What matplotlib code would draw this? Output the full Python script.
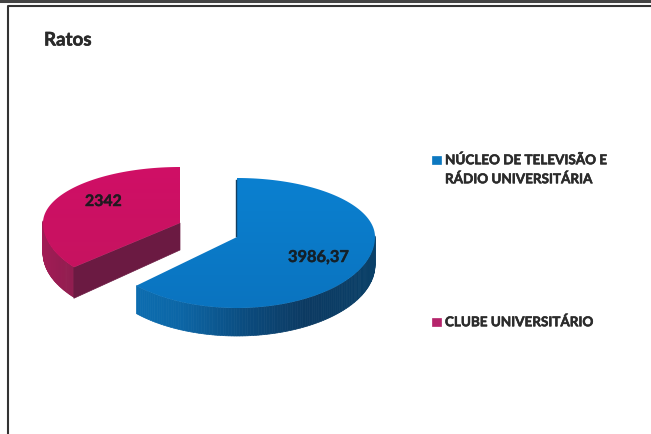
import numpy as np
from matplotlib import pyplot as plt
from matplotlib.patches import Polygon, Rectangle
from matplotlib.colors import to_rgb
from matplotlib import patheffects as pe

plt.rcParams['font.family'] = ['Lato', 'DejaVu Sans']

title = 'Ratos'
categories = ['NÚCLEO DE TELEVISÃO E\nRÁDIO UNIVERSITÁRIA', 'CLUBE UNIVERSITÁRIO']
values = [3986.37, 2342]
value_labels = ['3986,37', '2342']


def edge(cx, cy, rx, ry_up, ry_down, ang):
	# ang is clockwise from 12 o'clock, the lower half of the ellipse is a bit taller (perspective)
	c = np.cos(ang)
	ry = np.where(c > 0, ry_up, ry_down)
	return cx + rx * np.sin(ang), cy - ry * c


def slice3d(a0, a1, cx, cy, rx, ry_up, ry_down, depth, top1, top2, side_stops, z):
	ang = np.linspace(a0, a1, 200)
	x, y = edge(cx, cy, rx, ry_up, ry_down, ang)

	# outer wall, only the part facing us
	for i in range(len(ang) - 1):
		if np.cos(ang[i]) > 0.03:
			continue
		t = (x[i] - (cx - rx)) / (2 * rx)
		col = np.array([np.interp(t, side_stops[0], [to_rgb(s)[k] for s in side_stops[1]]) for k in range(3)])
		quad = [(x[i], y[i]), (x[i + 1], y[i + 1]), (x[i + 1], y[i + 1] + depth), (x[i], y[i] + depth)]
		ax.add_patch(Polygon(quad, fc=col, ec=col, lw=0.5, zorder=z))

	# top face with a soft vertical gradient
	pts = np.column_stack([np.r_[cx, x], np.r_[cy, y]])
	face = Polygon(pts, fc='none', ec='none', zorder=z + 2)
	ax.add_patch(face)
	grad = np.linspace(0, 1, 64).reshape(-1, 1, 1) * (np.array(to_rgb(top2)) - np.array(to_rgb(top1))) + np.array(to_rgb(top1))
	im = ax.imshow(grad, extent=(cx - rx, cx + rx, cy + ry_down, cy - ry_up), aspect='auto', zorder=z + 2, interpolation='bilinear')
	im.set_clip_path(face)


fig = plt.figure(figsize=(6.51, 4.34), dpi=100)
ax = fig.add_axes([0, 0, 1, 1])

shares = np.array(values) / np.sum(values) * 2 * np.pi
split = shares[0]

# red slice sits up and to the left of the blue one, its perspective turns the cut a little
r_cx, r_cy = 180, 223
r_start = split + np.radians(4)
cut_x, cut_y = edge(r_cx, r_cy, 137, 56, 70, r_start)
ax.add_patch(Polygon([(r_cx, r_cy), (cut_x, cut_y), (cut_x, cut_y + 31), (r_cx, r_cy + 27)],
	fc='#6b1a42', ec='#6b1a42', lw=0.5, zorder=3))
slice3d(r_start, 2 * np.pi, r_cx, r_cy, 137, 56, 70, 30, '#d00f66', '#c4145e',
	([0, 0.15, 0.3], ['#a11c55', '#8a1d4d', '#6b1a42']), 2)

slice3d(0, split, 237, 237, 138, 59, 71, 28, '#0b80d0', '#0a74c0',
	([0, 0.3, 0.55, 0.75, 1], ['#0c72b8', '#0c66a6', '#0b4a7c', '#0c3a62', '#0a4068']), 6)
# thin dark seam along the vertical cut of the blue slice
ax.plot([236, 236], [180, 236], color='#123f63', lw=1.0, zorder=9)

soft = [pe.withStroke(linewidth=0.4, foreground='#2b2b2b')]
ax.text(288, 258, value_labels[0], fontsize=11.8, fontweight='bold', color='#10202c', ha='left', va='center', zorder=12, path_effects=soft)
ax.text(85, 202, value_labels[1], fontsize=11.4, fontweight='bold', color='#241620', ha='left', va='center', zorder=12, path_effects=soft)

# legend
leg_colors = ['#0c78c0', '#b5246b']
leg_y = [160, 322]
for col, yy in zip(leg_colors, leg_y):
	ax.add_patch(Rectangle((432, yy - 4), 9, 8, fc=col, ec=col, lw=0.5, zorder=5))
for line, yy in zip(categories[0].split('\n'), [160, 179]):
	ax.text(445, yy, line, fontsize=9.7, fontweight='bold', color='#2b2b2b', va='center', path_effects=soft)
ax.text(445, 322, categories[1], fontsize=9.7, fontweight='bold', color='#2b2b2b', va='center', path_effects=soft)

ax.text(44, 40, title, fontsize=13.5, fontweight='bold', color='#2a2a2a', va='center', path_effects=soft)

# scanned frame, no right or bottom side
ax.plot([0, 651], [1, 1], color='#444444', lw=2.2, zorder=20)
ax.plot([8, 8, 651], [434, 5.5, 5.5], color='#333333', lw=1.5, zorder=20)

ax.set_xlim(0, 651)
ax.set_ylim(434, 0)
ax.axis('off')
fig.savefig('out.png', dpi=100)
